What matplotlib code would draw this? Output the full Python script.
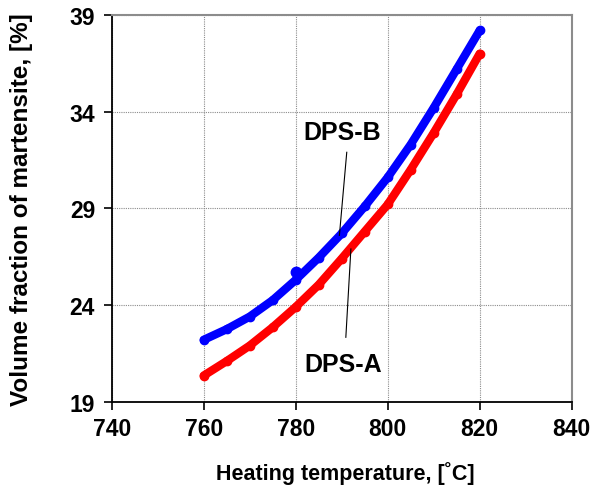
import matplotlib
matplotlib.use("Agg")
import matplotlib.pyplot as plt

plt.rcParams['font.family'] = ['Liberation Sans', 'DejaVu Sans']

temps = [760, 765, 770, 775, 780, 785, 790, 795, 800, 805, 810, 815, 820]
dps_b = [22.2, 22.75, 23.4, 24.25, 25.3, 26.45, 27.7, 29.1, 30.6, 32.3, 34.2, 36.2, 38.2]
dps_a = [20.35, 21.1, 21.9, 22.85, 23.9, 25.05, 26.4, 27.8, 29.2, 31.0, 32.9, 34.9, 37.0]
b_step_x = [780]
b_step_y = [25.7]

xticks = [740, 760, 780, 800, 820, 840]
yticks = [19, 24, 29, 34, 39]

fig = plt.figure(figsize=(5.98, 4.89), dpi=100)
ax = fig.add_axes([0.1868, 0.1765, 0.956 - 0.1868, 0.9673 - 0.1765])

ax.plot(temps, dps_b, color='#0000ff', lw=6, marker='o', ms=6,
        solid_capstyle='round', solid_joinstyle='round', zorder=3)
ax.plot(b_step_x, b_step_y, 'o', color='#0000ff', ms=7.5, zorder=3)
ax.plot(temps, dps_a, color='#ff0000', lw=6, marker='o', ms=6,
        solid_capstyle='round', solid_joinstyle='round', zorder=3)

ax.set_xlim(740, 840)
ax.set_ylim(19, 39)
ax.set_xticks(xticks)
ax.set_yticks(yticks)
ax.grid(True, linestyle=(0, (1, 1)), color='#8c8c8c', linewidth=0.8)
ax.set_axisbelow(True)

for lbl in ax.get_xticklabels() + ax.get_yticklabels():
    lbl.set_fontweight('bold')
    lbl.set_fontsize(16.5)
ax.tick_params(axis='y', direction='out', length=6, width=1.2, pad=6)
ax.tick_params(axis='x', direction='out', length=6, width=1.2, pad=5)

for s in ['left', 'bottom']:
    ax.spines[s].set_color('black')
    ax.spines[s].set_linewidth(1.3)
for s in ['top', 'right']:
    ax.spines[s].set_color('#8c8c8c')
    ax.spines[s].set_linewidth(1.5)

ax.set_xlabel('Heating temperature, [\u02daC]', fontsize=15.5, fontweight='bold')
ax.xaxis.set_label_coords(0.507, -0.153)
ax.set_ylabel('Volume fraction of martensite, [%]', fontsize=17.5, fontweight='bold')
ax.yaxis.set_label_coords(-0.171, 0.5)

ax.text(790.1, 32.95, 'DPS-B', fontsize=18, fontweight='bold', ha='center', va='center', zorder=4)
ax.plot([791.1, 789.5], [31.9, 27.6], color='black', lw=0.8, zorder=4)
ax.text(790.3, 20.95, 'DPS-A', fontsize=18, fontweight='bold', ha='center', va='center', zorder=4)
ax.plot([792.0, 790.9], [26.9, 22.33], color='black', lw=0.8, zorder=4)

fig.savefig('out.png', dpi=100)
